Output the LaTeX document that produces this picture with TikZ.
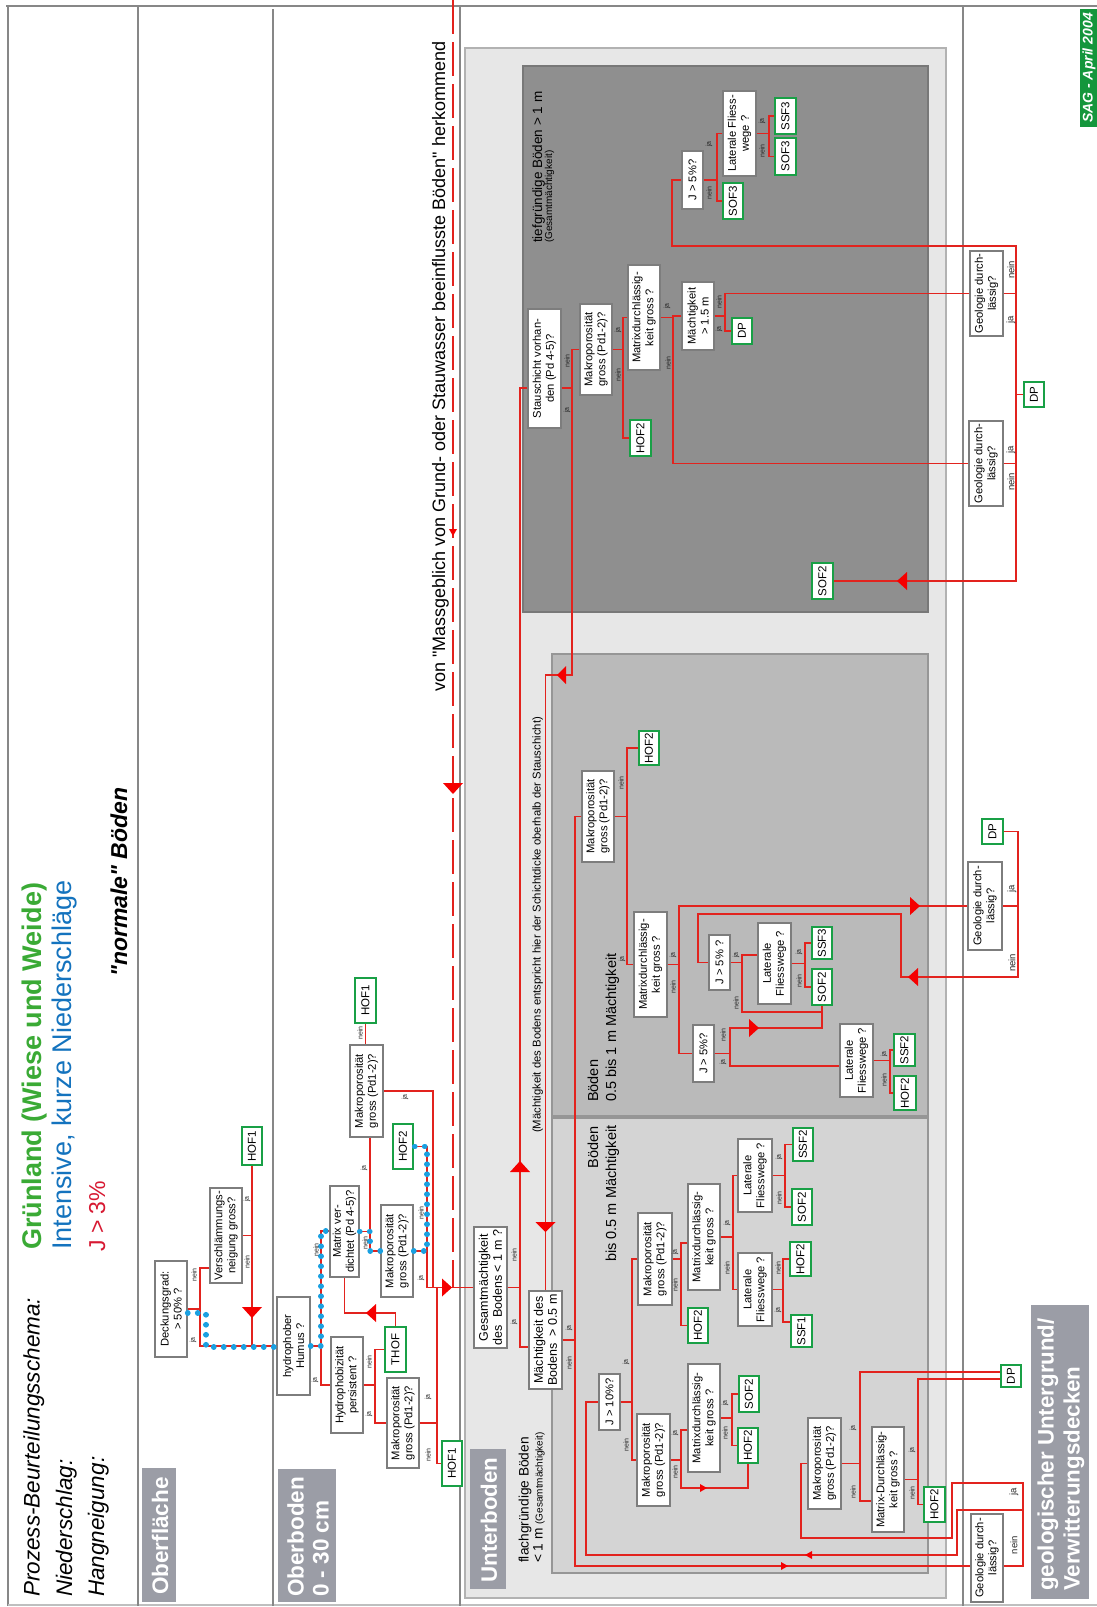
\documentclass[tikz,border=0pt]{standalone}
\usepackage{fontspec}
\setmainfont{Liberation Sans}[Ligatures=TeXOff]
\usetikzlibrary{calc}
\definecolor{lred}{RGB}{226,35,30}
\definecolor{tred}{RGB}{245,0,0}
\definecolor{rgreen}{RGB}{25,160,70}
\definecolor{bdot}{RGB}{25,160,225}
\definecolor{qgray}{RGB}{125,125,125}
\definecolor{frm}{RGB}{135,135,135}
\definecolor{hdr}{RGB}{155,157,166}
\definecolor{gGreen}{RGB}{58,170,53}
\definecolor{gBlue}{RGB}{20,115,190}
\definecolor{gRed}{RGB}{215,25,50}
\definecolor{sag}{RGB}{20,150,60}
\definecolor{bgA}{RGB}{231,231,231}
\definecolor{bgAd}{RGB}{178,178,178}
\definecolor{bgT}{RGB}{143,143,143}
\definecolor{bgTd}{RGB}{120,120,120}
\definecolor{bgM}{RGB}{186,186,186}
\definecolor{bgS}{RGB}{212,212,212}
\definecolor{bgMd}{RGB}{150,150,150}
\tikzset{
 qb/.style={draw=qgray, line width=1.3pt, fill=white, rotate=90, align=center, inner sep=0.5pt, font=\fontsize{11.2}{13}\selectfont},
 qbl/.style={qb, font=\fontsize{12.5}{14}\selectfont},
 rb/.style={draw=rgreen, line width=1.5pt, fill=white, rotate=90, inner sep=0pt, font=\fontsize{11.5}{12}\selectfont},
 lab/.style={rotate=90, inner sep=0pt, font=\fontsize{7}{7}\selectfont, text=black!85},
 labg/.style={rotate=90, inner sep=0pt, font=\fontsize{9.5}{9.5}\selectfont, text=black!85},
 fl/.style={draw=lred, line width=1.3pt},
 bd/.style={draw=bdot, line width=5.5pt, line cap=round, dash pattern=on 0.2pt off 9.8pt},
 fr/.style={draw=frm, line width=2.5pt},
 rt/.style={rotate=90, inner sep=0pt, anchor=base west},
}
\newcommand\QB[7][qb]{\node[#1, minimum width={(#6-#4)*1pt}, minimum height={(#5-#3)*1pt}] (#2) at ({(#3+#5)/2},{(#4+#6)/2}) {#7};}
\newcommand\RB[6]{\node[rb, minimum width={(#5-#3)*1pt}, minimum height={(#4-#2)*1pt}] (#1) at ({(#2+#4)/2},{(#3+#5)/2}) {#6};}
\newcommand\Tip[5]{\fill[tred, shift={(#1,#2)}, rotate=#3] (0,0) -- (-#4,#5) -- (-#4,-#5) -- cycle;}
\newcommand\Lb[3]{\node[lab] at (#1,#2) {#3};}
\newcommand\Lg[3]{\node[labg] at (#1,#2) {#3};}
\begin{document}
\begin{tikzpicture}[x=1pt,y=-1pt]
\useasboundingbox (0,0) rectangle (1097,1607);
\fill[white] (0,0) rectangle (1097,1607);

% ---------- backgrounds
\filldraw[fill=bgA, draw=bgAd, line width=1.5pt] (465,48) rectangle (946,1598);
\filldraw[fill=bgT, draw=bgTd, line width=1.2pt] (523,66) rectangle (928,612);
\filldraw[fill=bgM, draw=bgMd, line width=1.2pt] (552,654) rectangle (928,1116);
\filldraw[fill=bgS, draw=bgMd, line width=1.2pt] (552,1118) rectangle (928,1573);

% ---------- frame
\draw[fr] (6,6) -- (1097,6);
\draw[fr] (8,6) -- (8,1606);
\draw[draw=black!25, line width=2pt] (8,1605) -- (1097,1605);
\draw[fr] (138,6) -- (138,1606);
\draw[fr] (273,9) -- (273,1606);
\draw[fr] (460,6) -- (460,1606);
\draw[fr] (963,6) -- (963,1606);

% ---------- header texts
\node[rt, font=\itshape\fontsize{22.5}{24}\selectfont] (h1) at (39.5,1597) {Prozess-Beurteilungsschema:};
\node[rt, font=\itshape\fontsize{22.5}{24}\selectfont] (h2) at (72,1597) {Niederschlag:};
\node[rt, font=\itshape\fontsize{22.5}{24}\selectfont] (h3) at (104,1597) {Hangneigung:};
\node[rt, font=\bfseries\fontsize{27}{28}\selectfont, text=gGreen] (h4) at (41.5,1250) {Grünland (Wiese und Weide)};
\node[rt, font=\fontsize{27}{28}\selectfont, text=gBlue] (h5) at (71.5,1250) {Intensive, kurze Niederschläge};
\node[rt, font=\fontsize{23}{24}\selectfont, text=gRed] (h6) at (105,1252) {J > 3\%};
\node[rt, font=\bfseries\itshape\fontsize{23}{24}\selectfont] (h7) at (127,977) {"normale" Böden};
\node[rt, font=\fontsize{18}{20}\selectfont] (h8) at (445,692) {von "Massgeblich von Grund- oder Stauwasser beeinflusste Böden" herkommend};

\fill[hdr] (142,1468) rectangle (176,1602);
\node[rotate=90, inner sep=0pt, text=white, font=\bfseries\fontsize{22.5}{24}\selectfont] (lo) at (160,1536) {Oberfläche};
\fill[hdr] (278,1469) rectangle (336,1602);
\node[rotate=90, inner sep=0pt, anchor=west, align=left, text=white, font=\bfseries\fontsize{22.5}{25}\selectfont] (lob) at (308,1597) {Oberboden\\0 - 30 cm};
\fill[hdr] (470,1449) rectangle (506,1589);
\node[rotate=90, inner sep=0pt, text=white, font=\bfseries\fontsize{22.3}{24}\selectfont] (lu) at (489,1520) {Unterboden};
\fill[hdr] (1031,1305) rectangle (1089,1599);
\node[rotate=90, inner sep=0pt, anchor=west, align=left, text=white, font=\bfseries\fontsize{22.3}{26}\selectfont] (lg) at (1061,1591) {geologischer Untergrund/\\Verwitterungsdecken};
\fill[sag] (1080,9) rectangle (1097,127);
\node[rotate=90, inner sep=0pt, text=white, font=\bfseries\itshape\fontsize{14}{15}\selectfont] (sg) at (1089,68) {SAG - April 2004};

\node[rt, font=\fontsize{13.5}{14}\selectfont] (tt1) at (542,243) {tiefgründige Böden > 1 m};
\node[rt, font=\fontsize{10}{11}\selectfont] (tt2) at (552,243) {(Gesamtmächtigkeit)};
\node[rt, font=\fontsize{11.3}{12}\selectfont] (tt3) at (540.5,1133) {(Mächtigkeit des Bodens entspricht hier der Schichtdicke oberhalb der Stauschicht)};
\node[rt, font=\fontsize{14.5}{15}\selectfont] (tm1) at (598,1102) {Böden};
\node[rt, font=\fontsize{14.5}{15}\selectfont] (tm2) at (616,1102) {0.5 bis 1 m Mächtigkeit};
\node[rotate=90, inner sep=0pt, anchor=base east, font=\fontsize{14.5}{15}\selectfont] (ts1) at (598,1126) {Böden};
\node[rt, font=\fontsize{14.5}{15}\selectfont] (ts2) at (616,1262) {bis 0.5 m Mächtigkeit};
\node[rt, font=\fontsize{13.7}{14}\selectfont] (tf1) at (528.5,1563) {flachgründige Böden};
\node[rt, font=\fontsize{13.7}{14}\selectfont] (tf2) at (542.5,1563) {< 1 m {\fontsize{10}{11}\selectfont (Gesamtmächtigkeit)}};

% ---------- question boxes
\QB{deck}{155}{1261}{187}{1357}{Deckungsgrad:\\> 50\% ?}
\QB{versch}{210}{1188}{242}{1283}{Verschlämmungs-\\neigung gross?}
\QB{humus}{277}{1297}{310}{1395}{hydrophober\\Humus ?}
\QB{hydro}{331}{1337}{363}{1433}{Hydrophobizität\\persistent ?}
\QB{matrixv}{330}{1186}{359}{1277}{Matrix ver-\\dichtet (Pd 4-5)?}
\QB{makroA}{387}{1378}{419}{1468}{Makroporosität\\gross (Pd1-2)?}
\QB{makroB}{381}{1205}{413}{1297}{Makroporosität\\gross (Pd1-2)?}
\QB{makroC}{350}{1045}{383}{1137}{Makroporosität\\gross (Pd1-2)?}
\QB[qbl]{gesamt}{474}{1227}{507}{1348}{Gesamtmächtigkeit\\des~~Bodens < 1 m ?}
\QB[qbl]{maecht}{529}{1291}{562}{1389}{Mächtigkeit des\\Bodens~~> 0.5 m}
\QB{stau}{528}{309}{561}{428}{Stauschicht vorhan-\\den (Pd 4-5)?}
\QB{makroT}{580}{304}{612}{395}{Makroporosität\\gross (Pd1-2)?}
\QB{matrixT}{628}{265}{660}{370}{Matrixdurchlässig-\\keit gross ?}
\QB{maechT}{682}{282}{714}{350}{Mächtigkeit\\> 1.5 m}
\QB{jT}{682}{151}{703}{209}{J > 5\%?}
\QB{latT}{723}{91}{756}{176}{Laterale Fliess-\\wege ?}
\QB{geoT1}{970}{251}{1003}{336}{Geologie durch-\\lässig?}
\QB{geoT2}{969}{421}{1003}{506}{Geologie durch-\\lässig?}
\QB{makroM}{582}{771}{614}{862}{Makroporosität\\gross (Pd1-2)?}
\QB{matrixM}{634}{912}{667}{1017}{Matrixdurchlässig-\\keit gross ?}
\QB{jM1}{709}{935}{730}{990}{J > 5\% ?}
\QB{jM2}{693}{1025}{714}{1082}{J > 5\%?}
\QB{latM1}{758}{923}{791}{1004}{Laterale\\Fliesswege ?}
\QB{latM2}{840}{1024}{873}{1097}{Laterale\\Fliesswege ?}
\QB{geoM}{968}{862}{1002}{950}{Geologie durch-\\lässig?}
\QB{j10}{599}{1374}{620}{1430}{J > 10\%?}
\QB{makroS1}{638}{1213}{672}{1305}{Makroporosität\\gross (Pd1-2)?}
\QB{matrixS1}{688}{1184}{720}{1290}{Matrixdurchlässig-\\keit gross ?}
\QB{latS1}{738}{1139}{772}{1212}{Laterale\\Fliesswege ?}
\QB{latS2}{738}{1253}{772}{1326}{Laterale\\Fliesswege ?}
\QB{makroS2}{637}{1414}{670}{1506}{Makroporosität\\gross (Pd1-2)?}
\QB{matrixS2}{688}{1364}{720}{1472}{Matrixdurchlässig-\\keit gross ?}
\QB{makroS3}{808}{1418}{841}{1509}{Makroporosität\\gross (Pd1-2)?}
\QB{matrixS3}{872}{1427}{904}{1532}{Matrix-Durchlässig-\\keit gross ?}
\QB{geoS}{971}{1514}{1003}{1602}{Geologie durch-\\lässig?}

% ---------- result boxes
\RB{hof1a}{242}{1127}{262}{1165}{HOF1}
\RB{thof}{385}{1327}{406}{1372}{THOF}
\RB{hof1b}{442}{1441}{462}{1486}{HOF1}
\RB{hof2a}{393}{1124}{413}{1169}{HOF2}
\RB{hof1c}{355}{978}{376}{1023}{HOF1}
\RB{hof2T}{630}{420}{651}{456}{HOF2}
\RB{dpT}{732}{318}{752}{344}{DP}
\RB{sof3a}{723}{183}{743}{219}{SOF3}
\RB{ssf3T}{775}{98}{796}{134}{SSF3}
\RB{sof3b}{775}{138}{796}{175}{SOF3}
\RB{dpR}{1024}{382}{1044}{407}{DP}
\RB{sof2T}{812}{563}{833}{599}{SOF2}
\RB{hof2M}{639}{731}{659}{765}{HOF2}
\RB{ssf3M}{812}{927}{832}{959}{SSF3}
\RB{sof2M}{812}{969}{832}{1005}{SOF2}
\RB{ssf2M}{894}{1034}{915}{1066}{SSF2}
\RB{hof2M2}{894}{1076}{916}{1110}{HOF2}
\RB{dpM}{982}{819}{1003}{844}{DP}
\RB{hof2S1}{688}{1308}{708}{1343}{HOF2}
\RB{ssf2S}{793}{1128}{813}{1161}{SSF2}
\RB{sof2S}{792}{1189}{812}{1225}{SOF2}
\RB{hof2S2}{790}{1242}{811}{1276}{HOF2}
\RB{ssf1}{791}{1315}{812}{1347}{SSF1}
\RB{sof2S2}{739}{1376}{759}{1412}{SOF2}
\RB{hof2S3}{738}{1428}{758}{1463}{HOF2}
\RB{hof2S4}{924}{1487}{945}{1522}{HOF2}
\RB{dpS}{1001}{1365}{1021}{1387}{DP}

% ---------- connectors (Oberflaeche / Oberboden)
\draw[fl] (deck.south) -- (200,1309);
\draw[fl] (versch.north |- 0,1268) -- (200,1268) -- (200,1346) -- (humus.north);
\draw[fl] (versch.south) -- (252,1235.5);
\draw[fl] (hof1a.west) -- (252,1346);
\draw[fl] (humus.south) -- (321,1346);
\draw[fl] (matrixv.north |- 0,1231) -- (321,1231) -- (321,1385) -- (hydro.north);
\draw[fl] (hydro.south) -- (375,1385);
\draw[fl] (thof.north) -- (375,1349.5) -- (375,1423) -- (makroA.north);
\draw[fl] (thof.east) -- (395.5,1313) -- (matrixv.west |- 0,1313) -- (matrixv.west);
\draw[fl] (matrixv.south) -- (370,1231.5);
\draw[fl] (makroC.west -| 370,0) -- (370,1251) -- (makroB.north);
\draw[fl] (hof1c.west) -- (hof1c.west |- makroC.east);
\draw[fl] (makroC.south) -- (433,1091) -- (433,1287);
\draw[fl] (makroB.south) -- (427,1251);
\draw[fl] (hof2a.south) -- (427,1146.5) -- (427,1287.5) -- (gesamt.north);
\draw[fl] (makroA.south) -- (437,1423);
\draw[fl] (437,1287.5) -- (437,1463.5) -- (hof1b.north);
\draw[lred, line width=1.5pt, dash pattern=on 34pt off 8pt] (453,0) -- (453,1287.5);

% ---------- Unterboden
\draw[fl] (gesamt.south) -- (520,1287.5);
\draw[fl] (stau.north |- 0,388) -- (520,388) -- (520,1347) -- (maecht.north |- 0,1347);
\draw[fl] (maecht.south) -- (575,1340);
\draw[fl] (makroM.north) -- (575,816.5) -- (575,1566) -- (geoS.north |- 0,1566);
\draw[fl] (stau.south |- 0,388) -- (572,388);
\draw[fl] (makroT.north) -- (572,349.5) -- (572,675) -- (545.5,675) -- (maecht.east);
% tief
\draw[fl] (makroT.south) -- (623,349.5);
\draw[fl] (matrixT.north) -- (623,317.5) -- (623,438) -- (hof2T.north);
\draw[fl] (matrixT.south) -- (673,317.5);
\draw[fl] (maechT.north) -- (673,316) -- (673,463.5) -- (geoT2.north);
\draw[fl] (maechT.south) -- (725,316);
\draw[fl] (geoT1.north) -- (725,293.5) -- (725,331) -- (dpT.north);
\draw[fl] (jT.north) -- (672,180) -- (672,246) -- (1016,246) -- (1016,581) -- (sof2T.south);
\draw[fl] (geoT1.south) -- (1016,293.5);
\draw[fl] (geoT2.south) -- (1016,463.5);
\draw[fl] (1016,394.5) -- (dpR.north);
\draw[fl] (jT.south) -- (717,180);
\draw[fl] (latT.north) -- (717,133.5) -- (717,201) -- (sof3a.north);
\draw[fl] (latT.south) -- (769,133.5);
\draw[fl] (ssf3T.north) -- (769,116) -- (769,156.5) -- (sof3b.north);
% mid
\draw[fl] (makroM.south) -- (627,816.5);
\draw[fl] (hof2M.north) -- (627,748) -- (627,964.5) -- (matrixM.north);
\draw[fl] (matrixM.south) -- (679,964.5);
\draw[fl] (geoM.north) -- (679,906) -- (679,1053.5) -- (jM2.north);
\draw[fl] (geoM.south) -- (1018,906);
\draw[fl] (dpM.south) -- (1018,831.5) -- (1018,977) -- (901,977) -- (901,914) -- (698,914) -- (698,962.5) -- (jM1.north);
\draw[fl] (jM1.south) -- (742,962.5);
\draw[fl] (latM1.north |- 0,955) -- (742,955) -- (742,1012) -- (822,1012) -- (sof2M.west);
\draw[fl] (jM2.south) -- (730,1053.5);
\draw[fl] (sof2M.west) -- (822,1028) -- (730,1028) -- (730,1066) -- (latM2.north |- 0,1066);
\draw[fl] (latM1.south) -- (805,963.5);
\draw[fl] (ssf3M.north) -- (805,943) -- (805,987) -- (sof2M.north);
\draw[fl] (latM2.south) -- (890,1060.5);
\draw[fl] (ssf2M.north) -- (890,1050) -- (890,1093) -- (hof2M2.north);
% bis 0.5
\draw[fl] (geoS.south |- 0,1566) -- (1023,1566) -- (1023,1483) -- (952,1483) -- (952,1538) -- (801,1538) -- (801,1463.5) -- (makroS3.north);
\draw[fl] (1023,1510) -- (957,1510) -- (957,1555) -- (586,1555) -- (586,1402) -- (j10.north);
\draw[fl] (j10.south) -- (632,1402);
\draw[fl] (makroS1.north) -- (632,1259) -- (632,1460) -- (makroS2.north);
\draw[fl] (makroS1.south) -- (681,1259);
\draw[fl] (matrixS1.north |- 0,1243) -- (681,1243) -- (681,1325.5) -- (hof2S1.north);
\draw[fl] (matrixS1.south) -- (733,1237);
\draw[fl] (latS1.north) -- (733,1175.5) -- (733,1289.5) -- (latS2.north);
\draw[fl] (latS1.south) -- (785,1175.5);
\draw[fl] (ssf2S.north) -- (785,1144.5) -- (785,1207) -- (sof2S.north);
\draw[fl] (latS2.south) -- (783,1289.5);
\draw[fl] (hof2S2.north) -- (783,1259) -- (783,1322) -- (ssf1.north |- 0,1322);
\draw[fl] (makroS2.south) -- (681,1460);
\draw[fl] (matrixS2.north |- 0,1430) -- (681,1430) -- (681,1488) -- (748,1488) -- (hof2S3.west);
\draw[fl] (matrixS2.south) -- (732,1418);
\draw[fl] (sof2S2.north) -- (732,1394) -- (732,1445.5) -- (hof2S3.north);
\draw[fl] (makroS3.south) -- (860,1463.5);
\draw[fl] (dpS.north |- 0,1372) -- (860,1372) -- (860,1501) -- (matrixS3.north |- 0,1501);
\draw[fl] (matrixS3.south) -- (918,1479.5);
\draw[fl] (dpS.north |- 0,1379) -- (918,1379) -- (918,1504.5) -- (hof2S4.north);

% ---------- arrow tips
\Tip{252}{1318}{-90}{11}{10}
\Tip{366}{1313}{180}{10}{9}
\Tip{452}{1287.5}{0}{10}{9}
\Tip{453}{536}{-90}{7}{4}
\Tip{453}{794}{-90}{11}{10}
\Tip{520}{1161}{90}{11}{10}
\Tip{545.5}{1232}{-90}{10}{10}
\Tip{557}{675}{180}{9}{9}
\Tip{897}{581}{180}{10}{9}
\Tip{920}{906}{0}{10}{9}
\Tip{908}{977}{180}{10}{9}
\Tip{759}{1028}{0}{10}{9}
\Tip{707}{1488}{0}{7}{4}
\Tip{788}{1566}{0}{7}{4}
\Tip{805}{1555}{180}{7}{4}

% ---------- blue highlighted path
\draw[bd] (deck.south |- 0,1313) -- (206,1313) -- (206,1347) -- (humus.north |- 0,1347);
\draw[bd] (humus.south) -- (321,1346) -- (321,1231) -- (matrixv.north |- 0,1231);
\draw[bd] (matrixv.south) -- (370,1231.5) -- (370,1251) -- (makroB.north);
\draw[bd] (makroB.south) -- (427,1251) -- (427,1146.5) -- (hof2a.south);

% ---------- ja / nein labels
\Lb{193}{1340}{ja} \Lb{194}{1275}{nein}
\Lb{247}{1199}{ja} \Lb{247}{1262}{nein}
\Lb{316}{1250}{nein} \Lb{315}{1380}{ja}
\Lb{369}{1362}{nein} \Lb{369}{1414}{ja}
\Lb{364}{1168}{ja} \Lb{365}{1243}{nein}
\Lb{360}{1033}{nein} \Lb{405}{1097}{ja}
\Lb{421}{1213}{nein} \Lb{421}{1278}{ja}
\Lb{428}{1397}{ja} \Lb{428}{1455}{nein}
\Lb{514}{1255}{nein} \Lb{514}{1322}{ja}
\Lb{569}{1328}{ja} \Lb{569}{1363}{nein}
\Lb{567}{361}{nein} \Lb{567}{410}{ja}
\Lb{618}{330}{ja} \Lb{618}{375}{nein}
\Lb{667}{306}{ja} \Lb{668}{363}{nein}
\Lb{719}{302}{nein} \Lb{719}{329}{ja}
\Lb{709}{144}{ja} \Lb{709}{193}{nein}
\Lb{762}{121}{ja} \Lb{762}{151}{nein}
\Lg{1011}{270}{nein} \Lg{1011}{320}{ja}
\Lg{1011}{450}{ja} \Lg{1011}{482}{nein}
\Lb{621}{783}{nein} \Lb{622}{959}{ja}
\Lb{673}{955}{ja} \Lb{673}{987}{nein}
\Lg{1012}{889}{ja} \Lg{1012}{963}{nein}
\Lb{736}{955}{ja} \Lb{736}{1003}{nein}
\Lb{723}{1035}{nein} \Lb{723}{1062}{ja}
\Lb{799}{952}{ja} \Lb{799}{981}{nein}
\Lb{884}{1054}{ja} \Lb{884}{1080}{nein}
\Lg{1014}{1492}{ja} \Lg{1014}{1545}{nein}
\Lb{626}{1362}{ja} \Lb{626}{1445}{nein}
\Lb{675}{1252}{ja} \Lb{675}{1285}{nein}
\Lb{727}{1223}{ja} \Lb{727}{1268}{nein}
\Lb{779}{1157}{ja} \Lb{779}{1198}{nein}
\Lb{778}{1268}{nein} \Lb{778}{1310}{ja}
\Lb{675}{1433}{ja} \Lb{675}{1472}{nein}
\Lb{725}{1403}{ja} \Lb{725}{1433}{nein}
\Lb{853}{1428}{ja} \Lb{853}{1492}{nein}
\Lb{912}{1450}{ja} \Lb{912}{1493}{nein}
\end{tikzpicture}
\end{document}
